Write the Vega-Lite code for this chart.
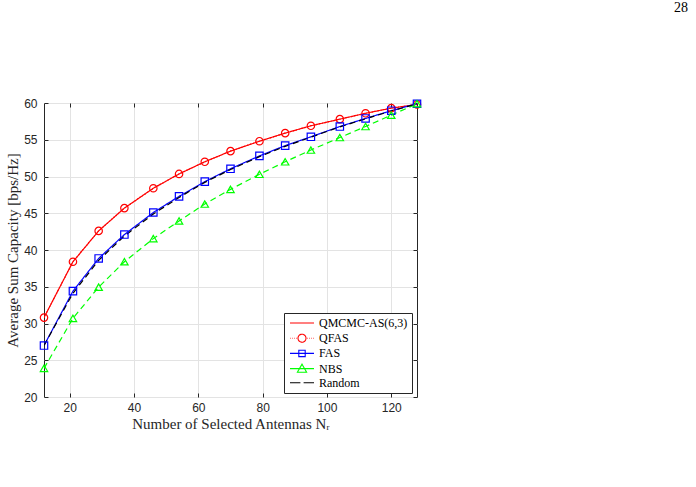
{
  "$schema": "https://vega.github.io/schema/vega-lite/v6.json",
  "width": 373,
  "height": 294,
  "autosize": {"type": "none"},
  "padding": {"left": 44, "top": 103, "right": 279, "bottom": 90},
  "background": "white",
  "title": {"text": "28", "anchor": "end", "frame": "group", "dx": 271, "offset": 71, "baseline": "alphabetic", "font": "Liberation Serif", "fontSize": 14, "fontWeight": "normal", "color": "black"},
  "config": {
    "view": {"stroke": "#262626", "strokeWidth": 1},
    "axis": {"labelFont": "Liberation Sans", "labelFontSize": 12, "labelColor": "#262626", "titleFont": "Liberation Serif", "titleFontSize": 15, "titleFontWeight": "normal", "titleColor": "#262626", "gridColor": "#e3e3e3", "gridWidth": 1, "tickColor": "#262626", "domain": false}
  },
  "data": {"values": [
    {"series": "QMCMC-AS(6,3)", "x": 12, "y": 30.8}, {"series": "QMCMC-AS(6,3)", "x": 21, "y": 38.4}, {"series": "QMCMC-AS(6,3)", "x": 29, "y": 42.6}, {"series": "QMCMC-AS(6,3)", "x": 37, "y": 45.7}, {"series": "QMCMC-AS(6,3)", "x": 46, "y": 48.4}, {"series": "QMCMC-AS(6,3)", "x": 54, "y": 50.35}, {"series": "QMCMC-AS(6,3)", "x": 62, "y": 52.0}, {"series": "QMCMC-AS(6,3)", "x": 70, "y": 53.45}, {"series": "QMCMC-AS(6,3)", "x": 79, "y": 54.8}, {"series": "QMCMC-AS(6,3)", "x": 87, "y": 55.9}, {"series": "QMCMC-AS(6,3)", "x": 95, "y": 56.9}, {"series": "QMCMC-AS(6,3)", "x": 104, "y": 57.8}, {"series": "QMCMC-AS(6,3)", "x": 112, "y": 58.6}, {"series": "QMCMC-AS(6,3)", "x": 120, "y": 59.3}, {"series": "QMCMC-AS(6,3)", "x": 128, "y": 59.8},
    {"series": "QFAS", "x": 12, "y": 30.8}, {"series": "QFAS", "x": 21, "y": 38.4}, {"series": "QFAS", "x": 29, "y": 42.6}, {"series": "QFAS", "x": 37, "y": 45.7}, {"series": "QFAS", "x": 46, "y": 48.4}, {"series": "QFAS", "x": 54, "y": 50.35}, {"series": "QFAS", "x": 62, "y": 52.0}, {"series": "QFAS", "x": 70, "y": 53.45}, {"series": "QFAS", "x": 79, "y": 54.8}, {"series": "QFAS", "x": 87, "y": 55.9}, {"series": "QFAS", "x": 95, "y": 56.9}, {"series": "QFAS", "x": 104, "y": 57.8}, {"series": "QFAS", "x": 112, "y": 58.6}, {"series": "QFAS", "x": 120, "y": 59.3}, {"series": "QFAS", "x": 128, "y": 59.8},
    {"series": "FAS", "x": 12, "y": 27.0}, {"series": "FAS", "x": 21, "y": 34.4}, {"series": "FAS", "x": 29, "y": 38.85}, {"series": "FAS", "x": 37, "y": 42.1}, {"series": "FAS", "x": 46, "y": 45.1}, {"series": "FAS", "x": 54, "y": 47.3}, {"series": "FAS", "x": 62, "y": 49.3}, {"series": "FAS", "x": 70, "y": 51.05}, {"series": "FAS", "x": 79, "y": 52.8}, {"series": "FAS", "x": 87, "y": 54.2}, {"series": "FAS", "x": 95, "y": 55.4}, {"series": "FAS", "x": 104, "y": 56.8}, {"series": "FAS", "x": 112, "y": 57.9}, {"series": "FAS", "x": 120, "y": 58.95}, {"series": "FAS", "x": 128, "y": 59.9},
    {"series": "NBS", "x": 12, "y": 23.9}, {"series": "NBS", "x": 21, "y": 30.7}, {"series": "NBS", "x": 29, "y": 34.95}, {"series": "NBS", "x": 37, "y": 38.4}, {"series": "NBS", "x": 46, "y": 41.55}, {"series": "NBS", "x": 54, "y": 43.95}, {"series": "NBS", "x": 62, "y": 46.25}, {"series": "NBS", "x": 70, "y": 48.25}, {"series": "NBS", "x": 79, "y": 50.3}, {"series": "NBS", "x": 87, "y": 52.0}, {"series": "NBS", "x": 95, "y": 53.6}, {"series": "NBS", "x": 104, "y": 55.3}, {"series": "NBS", "x": 112, "y": 56.8}, {"series": "NBS", "x": 120, "y": 58.35}, {"series": "NBS", "x": 128, "y": 59.9},
    {"series": "Random", "x": 12, "y": 27.0}, {"series": "Random", "x": 21, "y": 34.1}, {"series": "Random", "x": 29, "y": 38.6}, {"series": "Random", "x": 37, "y": 41.9}, {"series": "Random", "x": 46, "y": 44.9}, {"series": "Random", "x": 54, "y": 47.15}, {"series": "Random", "x": 62, "y": 49.2}, {"series": "Random", "x": 70, "y": 50.95}, {"series": "Random", "x": 79, "y": 52.7}, {"series": "Random", "x": 87, "y": 54.1}, {"series": "Random", "x": 95, "y": 55.35}, {"series": "Random", "x": 104, "y": 56.75}, {"series": "Random", "x": 112, "y": 57.85}, {"series": "Random", "x": 120, "y": 58.9}, {"series": "Random", "x": 128, "y": 59.9}
  ]},
  "resolve": {"axis": {"x": "independent", "y": "independent"}},
  "layer": [
    {
      "mark": {"type": "line", "strokeWidth": 1.2, "clip": true},
      "encoding": {
        "x": {"field": "x", "type": "quantitative", "scale": {"domain": [12, 128], "nice": false, "zero": false},
              "axis": {"values": [20, 40, 60, 80, 100, 120], "title": "Number of Selected Antennas Nᵣ", "tickSize": -4, "labelPadding": 9, "titlePadding": 3}},
        "y": {"field": "y", "type": "quantitative", "scale": {"domain": [20, 60], "nice": false, "zero": false},
              "axis": {"values": [20, 25, 30, 35, 40, 45, 50, 55, 60], "title": "Average Sum Capacity [bps/Hz]", "tickSize": -4, "labelPadding": 11, "titlePadding": 3}},
        "color": {"field": "series", "type": "nominal",
          "scale": {"domain": ["QMCMC-AS(6,3)", "QFAS", "FAS", "NBS", "Random"], "range": ["#ff0000", "#ff0000", "#0000ff", "#00ff00", "#000000"]},
          "legend": {"title": null, "orient": "none", "legendX": 240, "legendY": 210, "padding": 4, "rowPadding": 2.2, "strokeColor": "#262626", "fillColor": "white", "cornerRadius": 0,
                     "symbolSize": 64, "symbolOffset": 8, "symbolStrokeWidth": 1.1, "symbolFillColor": "transparent", "symbolDash": [1, 0], "labelFont": "Liberation Serif", "labelFontSize": 12, "labelColor": "#000000", "labelOffset": 11, "labelLimit": 200,
                     "symbolType": {"expr": "datum.value === 'QFAS' ? 'M-3,0L-2.85,0M-2.5,0L-2.35,0M-2,0L-1.85,0M-1.5,0L-1.35,0M1.35,0L1.5,0M1.85,0L2,0M2.35,0L2.5,0M2.85,0L3,0M-1,0A1,1 0 1,1 1,0A1,1 0 1,1 -1,0Z' : datum.value === 'FAS' ? 'M-3,0L3,0M-0.8,-0.8L0.8,-0.8L0.8,0.8L-0.8,0.8Z' : datum.value === 'NBS' ? 'M-3,0L3,0M0,-1.1L1.15,0.9L-1.15,0.9Z' : datum.value === 'Random' ? 'M-3,0L-0.4,0M0.4,0L3,0' : 'M-3,0L3,0'"}}},
        "strokeDash": {"field": "series", "type": "nominal", "legend": null, "sort": ["QMCMC-AS(6,3)", "QFAS", "FAS", "NBS", "Random"],
          "scale": {"range": [[1, 0], [1, 2], [1, 0], [6, 4], [6, 4]]}}
      }
    },
    {
      "mark": {"type": "point", "filled": false, "size": 55, "strokeWidth": 1.2, "opacity": 1},
      "encoding": {
        "x": {"field": "x", "type": "quantitative", "axis": {"orient": "top", "values": [20, 40, 60, 80, 100, 120], "labels": false, "title": null, "grid": false, "tickSize": -4}},
        "y": {"field": "y", "type": "quantitative", "axis": {"orient": "right", "values": [20, 25, 30, 35, 40, 45, 50, 55, 60], "labels": false, "title": null, "grid": false, "tickSize": -4}},
        "color": {"field": "series", "type": "nominal", "legend": null},
        "shape": {"field": "series", "type": "nominal", "legend": null, "sort": ["QMCMC-AS(6,3)", "QFAS", "FAS", "NBS", "Random"],
          "scale": {"range": ["M0,0", "circle", "square", "triangle-up", "M0,0"]}}
      }
    }
  ]
}
